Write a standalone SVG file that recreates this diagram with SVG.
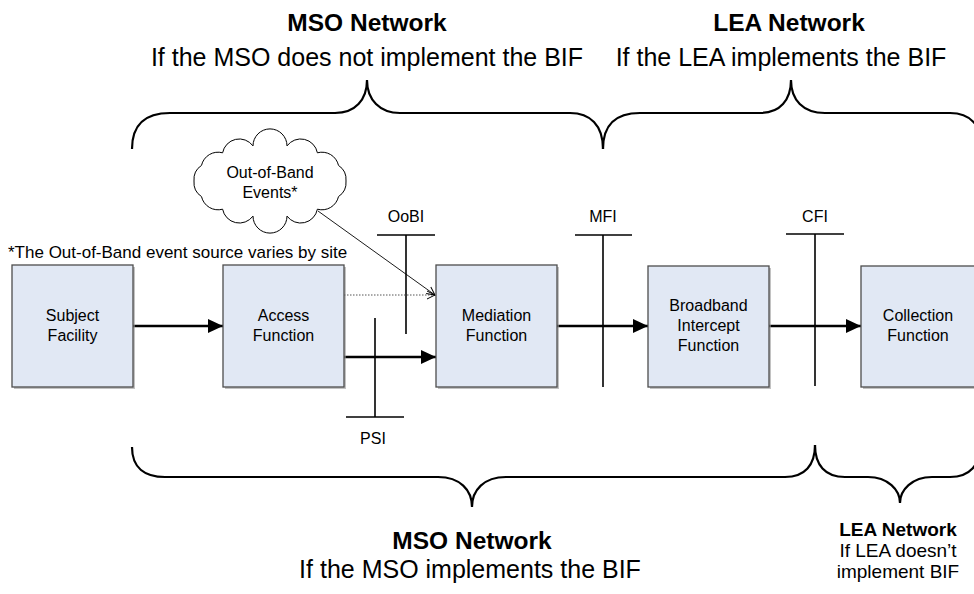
<svg xmlns="http://www.w3.org/2000/svg" width="974" height="594" viewBox="0 0 974 594">
<style>
text{font-family:"Liberation Sans",Arial,sans-serif;fill:#000}
.h{font-size:25px;text-anchor:middle}
.hb{font-size:24.5px;font-weight:bold;text-anchor:middle}
.lbl{font-size:16px;text-anchor:middle}
.cl{font-size:16px;text-anchor:middle}
.sm{font-size:19px;text-anchor:middle}
.smb{font-size:19px;font-weight:bold;text-anchor:middle}
.box{fill:#e1e8f4;stroke:#4d4d4d;stroke-width:1.3}
.shadow{fill:#9a9a9a;opacity:.6}
.brace{fill:none;stroke:#000;stroke-width:2.2}
.flow{stroke:#000;stroke-width:2.6;fill:none}
.ifc{stroke:#000;stroke-width:1.6;fill:none}
</style>
<defs>
<marker id="ah" markerUnits="userSpaceOnUse" markerWidth="16" markerHeight="14" refX="15" refY="7" orient="auto"><path d="M0,0 L15,7 L0,14 z" fill="#000"/></marker>
<marker id="oa" markerUnits="userSpaceOnUse" markerWidth="10" markerHeight="10" refX="9" refY="5" orient="auto"><path d="M1,1 L9,5 L1,9" fill="none" stroke="#000" stroke-width="1"/></marker>
</defs>
<rect width="974" height="594" fill="#fff"/>

<g id="headings">
<text class="hb" x="367" y="31">MSO Network</text>
<text class="h" x="367" y="66">If the MSO does not implement the BIF</text>
<text class="hb" x="789" y="31">LEA Network</text>
<text class="h" x="781" y="66">If the LEA implements the BIF</text>
<text class="hb" x="472" y="549">MSO Network</text>
<text class="h" x="470" y="578">If the MSO implements the BIF</text>
<text class="smb" x="898" y="536">LEA Network</text>
<text class="sm" x="898" y="557">If LEA doesn’t</text>
<text class="sm" x="898" y="578">implement BIF</text>
<text x="8" y="258" style="font-size:17px">*The Out-of-Band event source varies by site</text>
</g>

<g id="braces">
<path class="brace" d="M132,149 C132,125 145,113 170,113 L335,113 C355,113 367,100 367,80 C367,100 380,113 400,113 L570,113 C590,113 603,125 603,149"/>
<path class="brace" d="M603,149 C603,125 616,113 640,113 L760,113 C780,113 791,100 791,80 C791,100 803,113 825,113 L950,113 C970,113 982,125 982,149"/>
<path class="brace" d="M132,447 C132,468 145,477 165,477 L438,477 C460,477 472,490 472,507 C472,490 484,477 506,477 L785,477 C805,477 815,465 815,445"/>
<path class="brace" d="M815,445 C815,465 825,477 845,477 L868,477 C888,477 900,490 900,503 C900,490 912,477 932,477 L950,477 C970,477 980,465 980,445"/>
</g>

<g id="cloud">
<path d="M346,181 A17,17 0 0 1 338.5,196.6 A17,17 0 0 1 317.4,209.2 A17,17 0 0 1 287,216.1 A17,17 0 0 1 253,216.1 A17,17 0 0 1 222.6,209.2 A17,17 0 0 1 201.5,196.6 A17,17 0 0 1 194,181 A17,17 0 0 1 201.5,165.4 A17,17 0 0 1 222.6,152.8 A17,17 0 0 1 253,145.9 A17,17 0 0 1 287,145.9 A17,17 0 0 1 317.4,152.8 A17,17 0 0 1 338.5,165.4 A17,17 0 0 1 346,181 Z" fill="#fff" stroke="#000" stroke-width="1"/>
<text class="cl" x="270" y="178">Out-of-Band</text>
<text class="cl" x="270" y="198">Events*</text>
</g>

<g id="interfaces">
<line class="ifc" x1="377" y1="235" x2="435" y2="235"/>
<line class="ifc" x1="406" y1="235" x2="406" y2="334"/>
<text class="lbl" x="406" y="222">OoBI</text>
<line class="ifc" x1="375" y1="318" x2="375" y2="417"/>
<line class="ifc" x1="346" y1="417" x2="404" y2="417"/>
<text class="lbl" x="373" y="444">PSI</text>
<line class="ifc" x1="575" y1="235" x2="632" y2="235"/>
<line class="ifc" x1="603" y1="235" x2="603" y2="387"/>
<text class="lbl" x="603" y="222">MFI</text>
<line class="ifc" x1="786" y1="234" x2="844" y2="234"/>
<line class="ifc" x1="815" y1="234" x2="815" y2="386"/>
<text class="lbl" x="815" y="222">CFI</text>
</g>

<g id="connectors">
<line class="flow" x1="133" y1="326" x2="223" y2="326" marker-end="url(#ah)"/>
<line class="flow" x1="344" y1="357" x2="436" y2="357" marker-end="url(#ah)"/>
<line x1="344" y1="295" x2="435" y2="295" stroke="#555" stroke-width="1" stroke-dasharray="1.5,1.5" marker-end="url(#oa)"/>
<line x1="318" y1="211" x2="435" y2="295" stroke="#000" stroke-width="0.9" marker-end="url(#oa)"/>
<line class="flow" x1="557" y1="326" x2="648" y2="326" marker-end="url(#ah)"/>
<line class="flow" x1="769" y1="326" x2="861" y2="326" marker-end="url(#ah)"/>
</g>

<g id="subject">
<rect class="shadow" x="14" y="267" width="121" height="122"/>
<rect class="box" x="12" y="265" width="121" height="122"/>
<text class="lbl" x="72.5" y="321">Subject</text>
<text class="lbl" x="72.5" y="341">Facility</text>
</g>
<g id="access">
<rect class="shadow" x="225" y="267" width="121" height="122"/>
<rect class="box" x="223" y="265" width="121" height="122"/>
<text class="lbl" x="283.5" y="321">Access</text>
<text class="lbl" x="283.5" y="341">Function</text>
</g>
<g id="mediation">
<rect class="shadow" x="438" y="267" width="121" height="122"/>
<rect class="box" x="436" y="265" width="121" height="122"/>
<text class="lbl" x="496.5" y="321">Mediation</text>
<text class="lbl" x="496.5" y="341">Function</text>
</g>
<g id="bif">
<rect class="shadow" x="650" y="268" width="121" height="121"/>
<rect class="box" x="648" y="266" width="121" height="121"/>
<text class="lbl" x="708.5" y="311">Broadband</text>
<text class="lbl" x="708.5" y="331">Intercept</text>
<text class="lbl" x="708.5" y="351">Function</text>
</g>
<g id="collection">
<rect class="shadow" x="863" y="268" width="121" height="121"/>
<rect class="box" x="861" y="266" width="121" height="121"/>
<text class="lbl" x="918" y="321">Collection</text>
<text class="lbl" x="918" y="341">Function</text>
</g>
</svg>
